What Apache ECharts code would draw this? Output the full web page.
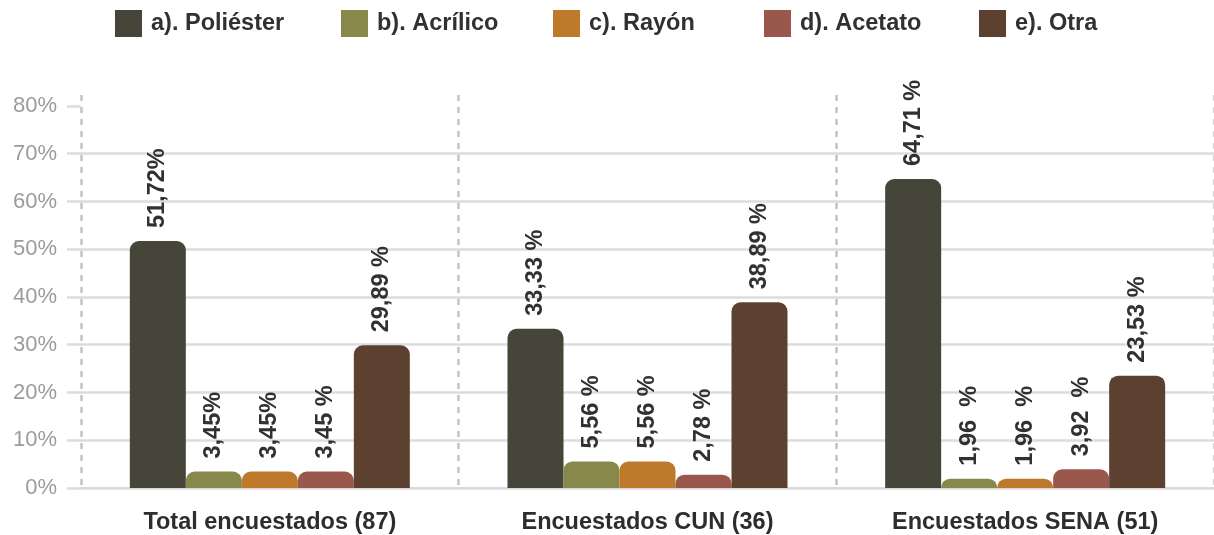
<!DOCTYPE html>
<html><head><meta charset="utf-8">
<script src="https://cdn.jsdelivr.net/npm/echarts@6/dist/echarts.min.js"></script>
<style>html,body{margin:0;padding:0;background:#fff}#c{width:1214px;height:535px}</style>
</head><body><div id="c"></div>
<script>
const categories = ['Total encuestados (87)', 'Encuestados CUN (36)', 'Encuestados SENA (51)'];
const seriesNames = ['a). Poliéster', 'b). Acrílico', 'c). Rayón', 'd). Acetato', 'e). Otra'];
const poliester = [51.72, 33.33, 64.71];
const acrilico = [3.45, 5.56, 1.96];
const rayon = [3.45, 5.56, 1.96];
const acetato = [3.45, 2.78, 3.92];
const otra = [29.89, 38.89, 23.53];
const poliesterLabels = ['51,72%', '33,33 %', '64,71 %'];
const acrilicoLabels = ['3,45%', '5,56 %', '1,96  %'];
const rayonLabels = ['3,45%', '5,56 %', '1,96  %'];
const acetatoLabels = ['3,45 %', '2,78 %', '3,92  %'];
const otraLabels = ['29,89 %', '38,89 %', '23,53 %'];
const yTicks = [0, 10, 20, 30, 40, 50, 60, 70, 80];

const colors = ['#45453a', '#878849', '#bf792c', '#9a584d', '#5c4131'];
const values = [poliester, acrilico, rayon, acetato, otra];
const labels = [poliesterLabels, acrilicoLabels, rayonLabels, acetatoLabels, otraLabels];
const FONT = '"Liberation Sans", Arial, sans-serif';
const legendLeft = [115, 341, 553, 764, 979];

const chart = echarts.init(document.getElementById('c'), null, {renderer: 'canvas'});
chart.setOption({
  animation: false,
  textStyle: {fontFamily: FONT},
  legend: seriesNames.map((n, i) => ({
    data: [n], left: legendLeft[i], top: 10, padding: 0, itemWidth: 27, itemHeight: 27, itemGap: 0,
    icon: 'rect',
    textStyle: {fontFamily: FONT, fontSize: 23.5, fontWeight: 'bold', color: '#2f3133', padding: [0, 0, 0, 4]},
    selectedMode: false
  })),
  grid: {left: 81, top: 95, bottom: 47, width: 1136, containLabel: false},
  xAxis: {
    type: 'category', data: categories,
    axisLine: {show: true, lineStyle: {color: '#dcdcdc', width: 2}},
    axisTick: {show: false},
    axisLabel: {fontFamily: FONT, fontSize: 23.5, fontWeight: 'bold', color: '#2b2d2f', margin: 23},
    splitLine: {show: true, lineStyle: {color: '#c4c4c4', width: 2.5, type: [6, 6]}}
  },
  yAxis: {
    type: 'value', min: 0, max: 82.3, interval: 10,
    axisLine: {show: false},
    axisTick: {show: true, length: 14, customValues: yTicks, lineStyle: {color: '#dcdcdc', width: 2.5}},
    axisLabel: {fontFamily: FONT, fontSize: 22, color: '#9b9b9b', margin: 24, customValues: yTicks,
      formatter: v => v + '%'},
    splitLine: {show: true, showMaxLine: false, lineStyle: {color: '#dcdcdc', width: 2.5}}
  },
  series: seriesNames.map((n, i) => ({
    name: n, type: 'bar', data: values[i], barWidth: 56, barGap: '0%',
    itemStyle: {color: colors[i], borderRadius: [9, 9, 0, 0]},
    label: {
      show: true, position: 'top', rotate: 90, align: 'left', verticalAlign: 'middle', distance: 13,
      fontFamily: FONT, fontSize: 23.5, fontWeight: 'bold', color: '#2f3133',
      formatter: p => labels[i][p.dataIndex]
    }
  }))
});
</script></body></html>
